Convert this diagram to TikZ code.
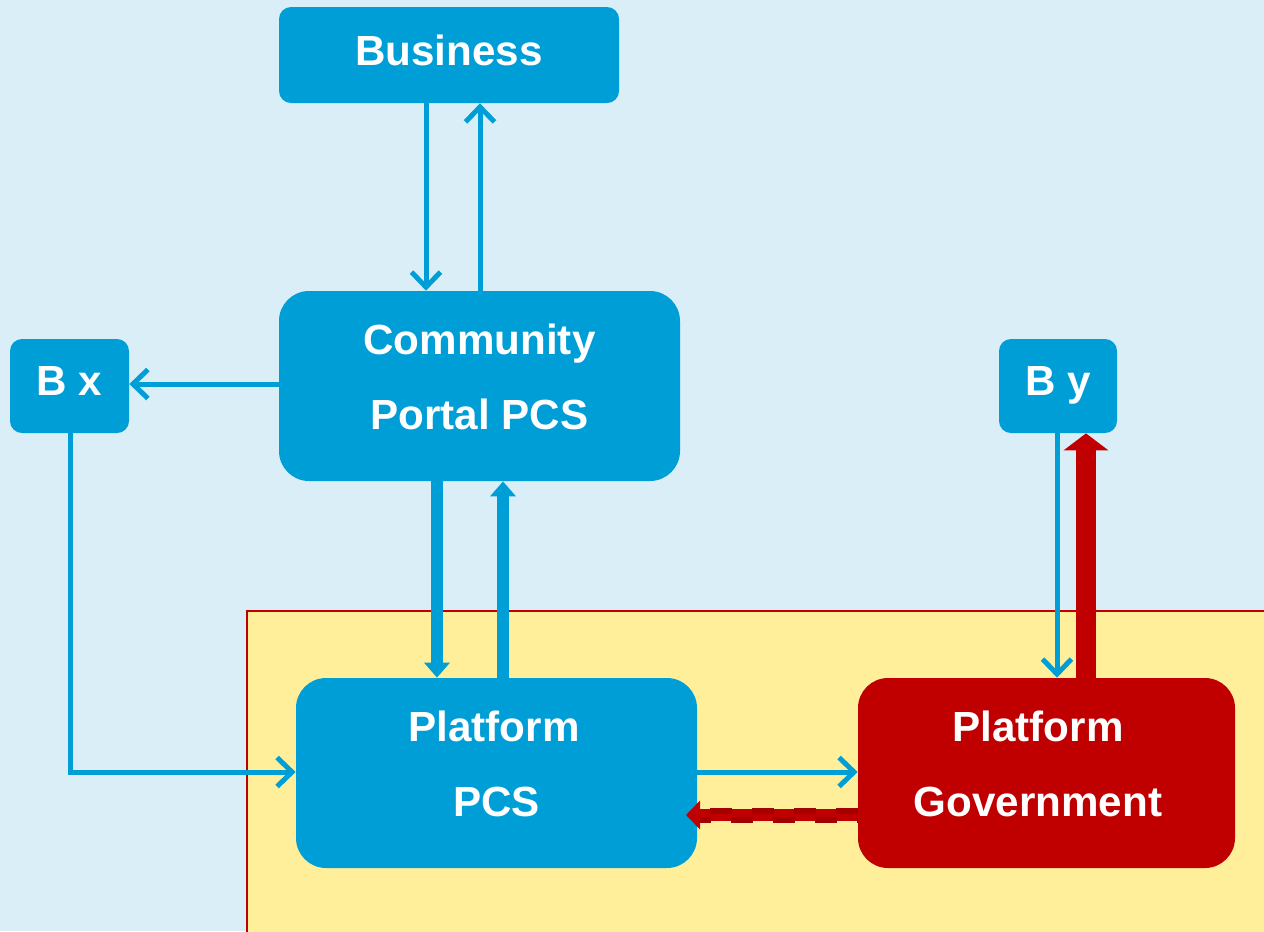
\documentclass[tikz,border=0pt]{standalone}
\usepackage{fontspec}
\setmainfont{Liberation Sans}
\usetikzlibrary{arrows.meta,calc}
\definecolor{cpblue}{RGB}{0,158,214}
\definecolor{bgblue}{RGB}{218,238,248}
\definecolor{zoneyel}{RGB}{255,239,155}
\definecolor{govred}{RGB}{192,0,0}
\definecolor{darkred}{RGB}{165,0,0}
\begin{document}
\begin{tikzpicture}[x=0.02cm,y=-0.02cm,
  box/.style={fill=cpblue, draw=none, rounded corners=0.3cm, inner sep=0pt},
  lbl/.style={text=white, font=\fontsize{24}{43}\selectfont\bfseries, align=center, inner sep=0pt},
  thin/.style={cpblue, line width=5*0.02cm, -{Straight Barb[length=0.3cm,width=0.58cm,line width=0.1cm]}},
  thick/.style={cpblue, line width=12*0.02cm, -{Triangle[length=0.3cm,width=0.5cm]}},
  thickred/.style={govred, line width=20*0.02cm, -{Triangle[length=0.34cm,width=0.88cm]}}
]
\useasboundingbox (0,0) rectangle (1264,931);
\fill[bgblue] (0,0) rectangle (1264,931);
\filldraw[fill=zoneyel, draw=govred, line width=2*0.02cm] (247,611) rectangle (1270,940);

\node[box, minimum width=340*0.02cm, minimum height=96*0.02cm, rounded corners=0.24cm] (biz) at (449,55) {};
\node[lbl] (bizT) at (449,50) {Business};
\node[box, minimum width=401*0.02cm, minimum height=190*0.02cm, rounded corners=0.6cm] (comm) at (479.5,386) {};
\node[lbl] (commT) at (479.5,377) {Community\\Portal PCS};
\node[box, minimum width=119*0.02cm, minimum height=94*0.02cm, rounded corners=0.24cm] (bx) at (69.5,386) {};
\node[lbl] (bxT) at (69.5,381) {B x};
\node[box, minimum width=118*0.02cm, minimum height=94*0.02cm, rounded corners=0.24cm] (by) at (1058,386) {};
\node[lbl] (byT) at (1058,385) {B y};
\node[box, minimum width=401*0.02cm, minimum height=190*0.02cm, rounded corners=0.6cm] (pcs) at (496.5,773) {};
\node[lbl] (pcsT) at (494,764) {Platform\\\hspace*{0.1cm}PCS};
\node[box, fill=govred, minimum width=377*0.02cm, minimum height=190*0.02cm, rounded corners=0.6cm] (gov) at (1046.5,773) {};
\node[lbl] (govT) at (1038,764) {Platform\\Government};

% Business <-> Community
\draw[thin] (biz.south -| 426,0) -- (comm.north -| 426,0);
\draw[thin] (comm.north -| 480,0) -- (biz.south -| 480,0);
% Community -> Bx
\draw[thin] (comm.west |- 0,384) -- (bx.east |- 0,384);
% Community <-> Platform PCS
\draw[thick] (comm.south -| 437,0) -- (pcs.north -| 437,0);
\draw[thick] (pcs.north -| 503,0) -- (comm.south -| 503,0);
% Bx -> Platform PCS
\draw[thin] (bx.south -| 70,0) -- (70,772) -- (pcs.west |- 0,772);
% PCS -> Gov
\draw[thin] (pcs.east |- 0,772) -- (gov.west |- 0,772);
% Gov -> PCS dashed red
\coordinate (dashEnd) at (686,815);
\draw[govred, line width=12*0.02cm, -{Triangle[length=0.28cm,width=0.56cm]}] (gov.west |- 0,815) -- (dashEnd);
\draw[darkred, line width=6*0.02cm, dash pattern=on 22*0.02cm off 20*0.02cm] (gov.west |- 0,811) -- (700,811);
\draw[darkred, line width=6*0.02cm, dash pattern=on 22*0.02cm off 20*0.02cm, dash phase=21*0.02cm] (gov.west |- 0,820) -- (700,820);
% By <-> Gov
\draw[thin] (by.south -| 1057,0) -- (gov.north -| 1057,0);
\draw[thickred] (gov.north -| 1086,0) -- (by.south -| 1086,0);
\end{tikzpicture}
\end{document}
